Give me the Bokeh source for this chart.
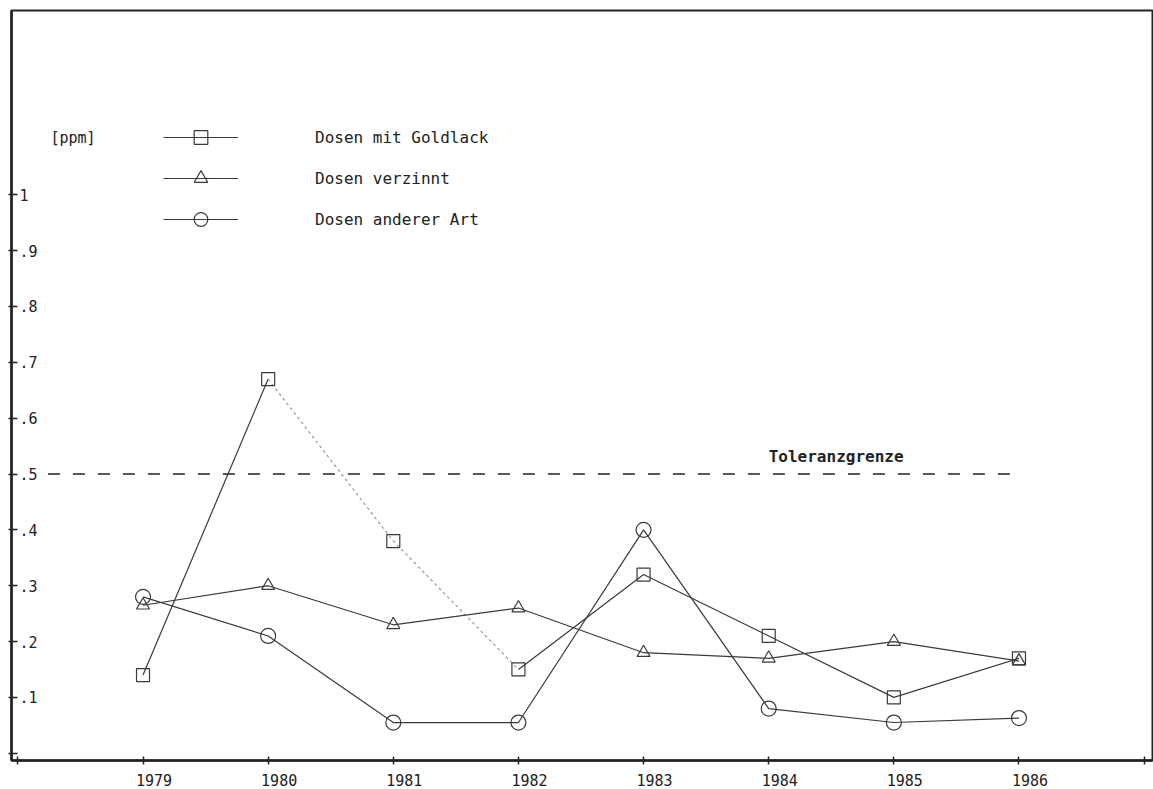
from bokeh.plotting import figure
from bokeh.models import (ColumnDataSource, Range1d, FixedTicker, LabelSet, Label,
                          Legend, LegendItem, LinearAxis)
from bokeh.core.properties import value
from bokeh.embed import file_html
from bokeh.resources import INLINE

# ---------------- data ----------------
years = [1979, 1980, 1981, 1982, 1983, 1984, 1985, 1986]
goldlack = [0.14, 0.67, 0.38, 0.15, 0.32, 0.21, 0.10, 0.17]
verzinnt = [0.265, 0.30, 0.23, 0.26, 0.18, 0.17, 0.20, 0.165]
andere = [0.28, 0.21, 0.055, 0.055, 0.40, 0.08, 0.055, 0.063]

series_names = ["Dosen mit Goldlack", "Dosen verzinnt", "Dosen anderer Art"]
unit_label = "[ppm]"

x_ticks = [1978, 1979, 1980, 1981, 1982, 1983, 1984, 1985, 1986, 1987]
x_tick_labels = ["1979", "1980", "1981", "1982", "1983", "1984", "1985", "1986"]
y_ticks = [0.0, 0.1, 0.2, 0.3, 0.4, 0.5, 0.6, 0.7, 0.8, 0.9, 1.0]
y_label_values = [0.1, 0.2, 0.3, 0.4, 0.5, 0.6, 0.7, 0.8, 0.9, 1.0]
y_tick_labels = [".1", ".2", ".3", ".4", ".5", ".6", ".7", ".8", ".9", "1"]

tolerance = 0.5
tolerance_x = [1978.24, 1985.97]
tolerance_label = "Toleranzgrenze"

# ---------------- layout / style ----------------
X_START, X_END = 1977.949, 1987.067
Y_START, Y_END = -0.013, 1.33
LABEL_SHIFT = 0.088          # x tick labels sit slightly right of their ticks
FONT = "DejaVu Sans Mono"
INK = "#222222"
LINE = "#3a3a3a"

p = figure(width=1153, height=789, output_backend="svg", toolbar_location=None,
           x_range=Range1d(X_START, X_END), y_range=Range1d(Y_START, Y_END),
           min_border_left=11, min_border_right=1, min_border_top=10, min_border_bottom=29)
p.background_fill_color = "white"
p.border_fill_color = "white"
p.outline_line_color = INK
p.outline_line_width = 2
p.xgrid.visible = False
p.ygrid.visible = False

for ax in (p.xaxis[0], p.yaxis[0]):
    ax.axis_line_color = INK
    ax.axis_line_width = 2.5
    ax.major_tick_line_color = INK
    ax.major_tick_line_width = 1.5
    ax.minor_tick_line_color = None
    ax.major_label_text_color = None
    ax.major_label_standoff = 0
p.xaxis[0].ticker = FixedTicker(ticks=x_ticks)
p.xaxis[0].major_tick_in = 4
p.xaxis[0].major_tick_out = 4
p.yaxis[0].ticker = FixedTicker(ticks=y_ticks)
p.yaxis[0].major_tick_in = 6
p.yaxis[0].major_tick_out = 3

# label-only axis for the years
p.extra_x_ranges = {"lab": Range1d(X_START - LABEL_SHIFT, X_END - LABEL_SHIFT)}
lab_axis = LinearAxis(x_range_name="lab", ticker=FixedTicker(ticks=years),
                      major_label_overrides={y: t for y, t in zip(years, x_tick_labels)},
                      axis_line_color=None, major_tick_line_color=None,
                      minor_tick_line_color=None, major_tick_in=0, major_tick_out=0,
                      major_label_standoff=9, major_label_text_font=FONT,
                      major_label_text_font_size="15px", major_label_text_color=INK)
p.add_layout(lab_axis, "below")

# tolerance line
p.line(tolerance_x, [tolerance, tolerance], line_color=INK, line_width=1.5,
       line_dash="12 13")
p.add_layout(Label(x=1984.0, y=0.532, text=tolerance_label, text_font=FONT,
                   text_font_size="16px", text_color=INK, text_baseline="middle",
                   text_font_style="bold"))

# series
g_solid1 = p.line(years[0:2], goldlack[0:2], line_color=LINE, line_width=1.2)
p.line(years[1:4], goldlack[1:4], line_color="#9a9a9a", line_width=1.2, line_dash="3 3")
p.line(years[3:], goldlack[3:], line_color=LINE, line_width=1.2)
g_pts = p.scatter(years, goldlack, marker="square", size=13, fill_color=None,
                  line_color=LINE, line_width=1.2)

v_line = p.line(years, verzinnt, line_color=LINE, line_width=1.2)
v_pts = p.scatter(years, verzinnt, marker="triangle", size=13, fill_color=None,
                  line_color=LINE, line_width=1.2)

a_line = p.line(years, andere, line_color=LINE, line_width=1.2)
a_pts = p.scatter(years, andere, marker="circle", size=15, fill_color=None,
                  line_color=LINE, line_width=1.2)

legend = Legend(items=[
    LegendItem(label=series_names[0], renderers=[g_solid1, g_pts]),
    LegendItem(label=series_names[1], renderers=[v_line, v_pts]),
    LegendItem(label=series_names[2], renderers=[a_line, a_pts]),
])
legend.location = (152, 524)
legend.glyph_width = 75
legend.glyph_height = 34
legend.label_height = 34
legend.spacing = 7
legend.label_standoff = 77
legend.padding = 0
legend.margin = 0
legend.border_line_color = None
legend.background_fill_alpha = 0
legend.label_text_font = FONT
legend.label_text_font_size = "16px"
legend.label_text_color = INK
p.add_layout(legend)

p.add_layout(Label(x=1978.26, y=1.102, text=unit_label, text_font=FONT,
                   text_font_size="15px", text_color=INK, text_baseline="middle"))

# y tick labels (printed inside the frame, right of the axis)
ys = ColumnDataSource(dict(x=[X_START] * len(y_label_values), y=y_label_values,
                           t=y_tick_labels))
p.add_layout(LabelSet(source=ys, x="x", y="y", text="t", x_offset=8, y_offset=0,
                      text_align="left", text_baseline="middle", text_font=value(FONT),
                      text_font_size=value("15px"), text_color=INK))

open("out.html", "w").write(file_html(p, INLINE))
